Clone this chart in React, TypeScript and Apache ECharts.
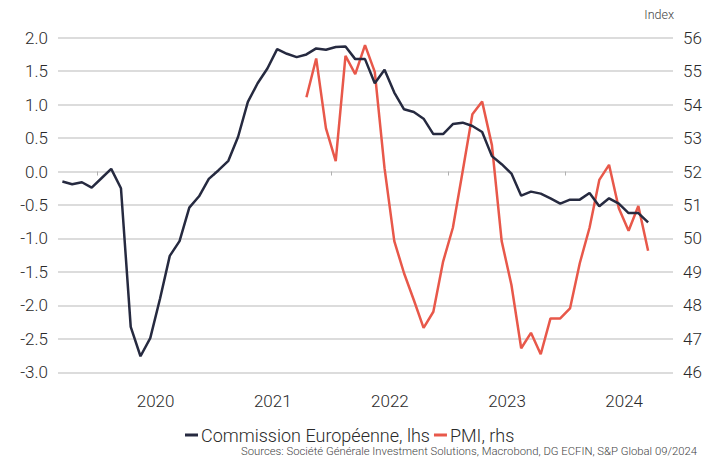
import React, { useEffect, useRef } from "react";
import * as echarts from "echarts";

// Months counted from September 2019 (index 0)
const axisStart = "2019-09";
const axisMonths = 63;
const yearTickMonths = [4, 16, 28, 40, 52]; // January of each year
const yearLabelMonths = [10, 22, 34, 46, 58]; // July of each year
const yearLabels = ["2020", "2021", "2022", "2023", "2024"];

const ecStartIndex = 0; // 2019-09
const ecValues = [
  -0.15, -0.19, -0.16, -0.24, -0.1, 0.04, -0.25, -2.32, -2.76, -2.49,
  -1.9, -1.26, -1.04, -0.54, -0.37, -0.11, 0.02, 0.16, 0.52, 1.04,
  1.32, 1.54, 1.83, 1.76, 1.71, 1.75, 1.84, 1.82, 1.86, 1.87,
  1.68, 1.68, 1.32, 1.52, 1.18, 0.93, 0.89, 0.79, 0.56, 0.56,
  0.71, 0.73, 0.68, 0.59, 0.23, 0.11, -0.03, -0.36, -0.3, -0.33,
  -0.4, -0.48, -0.42, -0.42, -0.32, -0.52, -0.4, -0.48, -0.62, -0.62, -0.76,
];

const pmiStartIndex = 25; // 2021-10
const pmiValues = [
  54.22, 55.38, 53.29, 52.31, 55.46, 54.91, 55.78, 54.98, 52.1, 49.92,
  48.96, 48.16, 47.33, 47.81, 49.31, 50.32, 52.0, 53.71, 54.09, 52.79,
  49.92, 48.61, 46.72, 47.18, 46.54, 47.61, 47.61, 47.91, 49.26, 50.32,
  51.75, 52.2, 50.9, 50.23, 50.97, 49.63,
];

const ecName = "Commission Européenne, lhs";
const pmiName = "PMI, rhs";
const sourceText =
  "Sources: Société Générale Investment Solutions, Macrobond, DG ECFIN, S&P Global 09/2024";
const rightAxisTitle = "Index";

const FONT = "Roboto";
const W = 300;
const TXT = "#2a2a2a";
const MID = 0.45; // points plotted mid-month

function toPoints(start: number, vals: number[]) {
  return vals.map((v, i) => [start + i + MID, v]);
}

export default function App() {
  const ref = useRef<HTMLDivElement>(null);
  useEffect(() => {
    document.body.style.margin = "0";
    const chart = echarts.init(ref.current!, null, { renderer: "svg" });
    chart.setOption({
      animation: false,
      backgroundColor: "#ffffff",
      textStyle: { fontFamily: FONT, fontWeight: W },
      grid: { left: 58, right: 33, top: 37.7, bottom: 89.7, containLabel: false },
      legend: {
        data: [ecName, pmiName],
        top: 421,
        left: 180,
        icon: "rect",
        itemWidth: 13,
        itemHeight: 3,
        itemGap: 4,
        textStyle: {
          fontFamily: FONT,
          fontWeight: W,
          fontSize: 18,
          color: TXT,
          padding: [0, 0, 0, -2],
        },
      },
      graphic: [
        {
          type: "text",
          right: 32,
          top: 8,
          style: { text: rightAxisTitle, font: `${W} 12.5px ${FONT}`, fill: "#444" },
        },
        {
          type: "text",
          right: 9,
          top: 446,
          style: { text: sourceText, font: `${W} 11.3px ${FONT}`, fill: "#444" },
        },
      ],
      xAxis: {
        type: "value",
        min: 0,
        max: axisMonths,
        offset: 12,
        axisLine: { show: false },
        splitLine: { show: false },
        axisTick: {
          show: true,
          customValues: yearTickMonths,
          length: 4,
          lineStyle: { color: "#b0b0b0", width: 1 },
        },
        axisLabel: {
          customValues: yearLabelMonths,
          margin: 8,
          fontSize: 17,
          color: TXT,
          fontFamily: FONT,
          fontWeight: W,
          formatter: (v: number) => yearLabels[yearLabelMonths.indexOf(Math.round(v))] ?? "",
        },
      },
      yAxis: [
        {
          type: "value",
          min: -3,
          max: 2,
          interval: 0.5,
          position: "left",
          axisLine: { show: false },
          axisTick: { show: false },
          splitLine: { lineStyle: { color: "#d0d0d0", width: 1.5 } },
          axisLabel: {
            margin: 10,
            fontSize: 17,
            color: TXT,
            fontFamily: FONT,
            fontWeight: W,
            formatter: (v: number) => v.toFixed(1),
          },
        },
        {
          type: "value",
          min: 46,
          max: 56,
          interval: 1,
          position: "right",
          axisLine: { show: false },
          axisTick: { show: false },
          splitLine: { show: false },
          axisLabel: { margin: 10, fontSize: 17, color: TXT, fontFamily: FONT, fontWeight: W },
        },
      ],
      series: [
        {
          name: ecName,
          type: "line",
          yAxisIndex: 0,
          data: toPoints(ecStartIndex, ecValues),
          showSymbol: false,
          symbol: "none",
          lineStyle: { color: "#262a40", width: 2.5 },
          itemStyle: { color: "#262a40" },
          z: 3,
        },
        {
          name: pmiName,
          type: "line",
          yAxisIndex: 1,
          data: toPoints(pmiStartIndex, pmiValues),
          showSymbol: false,
          symbol: "none",
          lineStyle: { color: "#e8584a", width: 2.5 },
          itemStyle: { color: "#e8584a" },
          z: 2,
        },
      ],
    });
    return () => chart.dispose();
  }, []);
  return (
    <div
      ref={ref}
      data-start={axisStart}
      style={{ position: "fixed", left: 0, top: 0, width: 706, height: 462 }}
    />
  );
}
